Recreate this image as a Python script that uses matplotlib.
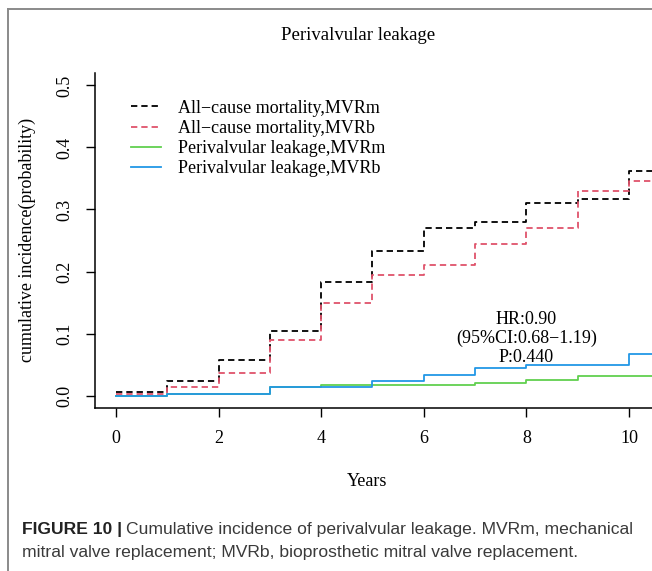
import numpy as np
import matplotlib.pyplot as plt
from matplotlib.lines import Line2D

# cumulative incidence (step values at each year)
years = [0, 1, 2, 3, 4, 5, 6, 7, 8, 9, 10]
mort_mvrm = [0.006, 0.023, 0.057, 0.104, 0.183, 0.233, 0.270, 0.280, 0.311, 0.317, 0.362]
mort_mvrb = [0.003, 0.014, 0.037, 0.090, 0.150, 0.194, 0.210, 0.245, 0.270, 0.329, 0.346]
pvl_mvrm = [0.000, 0.003, 0.003, 0.014, 0.017, 0.017, 0.017, 0.020, 0.025, 0.031, 0.031]
pvl_mvrb = [0.000, 0.003, 0.003, 0.014, 0.014, 0.023, 0.034, 0.045, 0.049, 0.049, 0.067]
follow_up_end = 10.6

labels = ["All\u2212cause mortality,MVRm", "All\u2212cause mortality,MVRb",
          "Perivalvular leakage,MVRm", "Perivalvular leakage,MVRb"]
colors = ["#000000", "#DF536B", "#61D04F", "#2297E6"]
styles = ["dash", "dash", "solid", "solid"]

plt.rcParams["font.family"] = ["Liberation Serif", "DejaVu Serif"]
FS = 13

fig = plt.figure(figsize=(6.52, 5.71), dpi=100)
ax = fig.add_axes([95 / 652, 163 / 571, 1 - 95 / 652, 335 / 571])

for vals, c, st, lab in zip([mort_mvrm, mort_mvrb, pvl_mvrm, pvl_mvrb], colors, styles, labels):
    x = np.append(years, follow_up_end)
    y = np.append(vals, vals[-1])
    line, = ax.step(x, y, where="post", color=c, lw=1.3, label=lab)
    if st == "dash":
        line.set_dashes((3.5, 2.2))

ax.set_xlim(-0.41, 10.45)
ax.set_ylim(-0.02, 0.52)
ax.set_xticks([0, 2, 4, 6, 8, 10])
ax.set_yticks([0.0, 0.1, 0.2, 0.3, 0.4, 0.5])
ax.set_yticklabels(["0.0", "0.1", "0.2", "0.3", "0.4", "0.5"], rotation=90, va="center")
ax.tick_params(labelsize=FS, length=6.5, width=1.0, pad=9)
for s in ["top", "right"]:
    ax.spines[s].set_visible(False)
for s in ["left", "bottom"]:
    ax.spines[s].set_linewidth(1.1)

ax.legend(loc="upper left", bbox_to_anchor=(0.051, 0.942), frameon=False, fontsize=FS,
          handlelength=1.7, handletextpad=0.9, labelspacing=0.18, borderaxespad=0)

ax.text(8, 0.092, "HR:0.90\n(95%CI:0.68\u22121.19)\nP:0.440", ha="center", va="center",
        fontsize=FS, linespacing=1.12)

fig.text(358 / 652, 1 - 35 / 571, "Perivalvular leakage", ha="center", va="center", fontsize=FS + 0.5)
fig.text(367 / 652, 1 - 481 / 571, "Years", ha="center", va="center", fontsize=FS)
fig.text(27 / 652, 1 - 240 / 571, "cumulative incidence(probability)", ha="center", va="center",
         rotation=90, fontsize=FS)

# gray frame around the figure panel
fig.add_artist(Line2D([8 / 652, 8 / 652], [0, 1 - 9 / 571], color="#8a8a8a", lw=1.4, transform=fig.transFigure))
fig.add_artist(Line2D([8 / 652, 1], [1 - 9 / 571, 1 - 9 / 571], color="#8a8a8a", lw=1.4, transform=fig.transFigure))

# caption
cap_font = ["Liberation Sans", "DejaVu Sans"]
CFS = 12.6
t1 = fig.text(22 / 652, 1 - 529.5 / 571, "FIGURE 10 |", fontsize=CFS, fontweight="bold",
              family=cap_font, color="#222222", va="center")
fig.canvas.draw()
bb = t1.get_window_extent()
fig.text((bb.x1 + 4) / 652, 1 - 529.5 / 571, "Cumulative incidence of perivalvular leakage. MVRm, mechanical",
         fontsize=CFS, family=cap_font, color="#3a3a3a", va="center")
fig.text(22 / 652, 1 - 552 / 571, "mitral valve replacement; MVRb, bioprosthetic mitral valve replacement.",
         fontsize=CFS, family=cap_font, color="#3a3a3a", va="center")

fig.savefig("out.png", dpi=100)
